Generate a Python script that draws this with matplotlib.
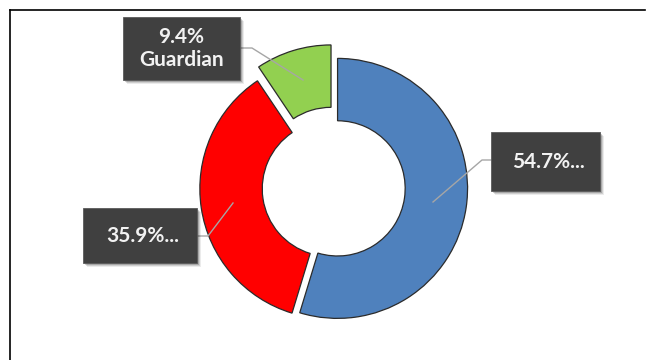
import numpy as np
import matplotlib.pyplot as plt
from matplotlib.patches import Rectangle
from matplotlib.lines import Line2D

# slice shares (%), clockwise from 12 o'clock
values = [54.7, 35.9, 9.4]
labels = ["54.7%...", "35.9%...", "9.4%\nGuardian"]
colors = ["#4F81BD", "#FF0000", "#92D050"]
explode = [0.02, 0.04, 0.105]

W, H = 651, 360
fig = plt.figure(figsize=(W / 100, H / 100), dpi=100)

def fx(px):
    return px / W

def fy(py):
    return 1 - py / H

# pie axes: center (335, 188) px, radius 1 == 130 px
cx, cy, R, half = 335, 188, 130, 150
ax = fig.add_axes([fx(cx - half), fy(cy + half), 2 * half / W, 2 * half / H])
ax.pie(values, colors=colors, startangle=90, counterclock=False, explode=explode,
       wedgeprops=dict(width=0.48, edgecolor="#2b2b2b", linewidth=0.9))
ax.set_xlim(-half / R, half / R)
ax.set_ylim(-half / R, half / R)
ax.set_aspect("equal")
ax.axis("off")

# chart frame (top and left lines only visible)
fig.add_artist(Line2D([fx(10), fx(645)], [fy(10), fy(10)], color="black", lw=1.2))
fig.add_artist(Line2D([fx(10), fx(10)], [fy(10), 0], color="black", lw=1.2))

# data label boxes: (left, top, right, bottom) px, leader line points
boxes = [(491, 132, 600, 191), (83, 208, 197, 263), (123, 17, 240, 80)]
leaders = [[(491, 160), (482, 160), (433, 202)],
           [(197, 236), (208, 236), (233, 203)],
           [(240, 48), (252, 48), (303, 80)]]

for lab, (l, t, r, b), pts in zip(labels, boxes, leaders):
    xs = [fx(p[0]) for p in pts]
    ys = [fy(p[1]) for p in pts]
    fig.add_artist(Line2D(xs, ys, color="#a6a6a6", lw=1.0, zorder=3))
    # soft shadow
    for k, a in [(4, 0.08), (3, 0.12), (2, 0.18)]:
        fig.add_artist(Rectangle((fx(l + k), fy(b + k)), fx(r - l), (b - t) / H,
                                 facecolor="black", alpha=a, edgecolor="none", zorder=4))
    fig.add_artist(Rectangle((fx(l), fy(b)), fx(r - l), (b - t) / H,
                             facecolor="#404040", edgecolor="#5a5a5a", lw=0.6, zorder=5))
    fig.text(fx((l + r) / 2) + (3 / W if "\n" not in lab else 0), fy((t + b) / 2),
             lab, color="#f2f2f2", fontsize=15, fontweight="bold", family="Lato",
             ha="center", va="center", linespacing=1.2, zorder=6)

fig.savefig("out.png", dpi=100)
